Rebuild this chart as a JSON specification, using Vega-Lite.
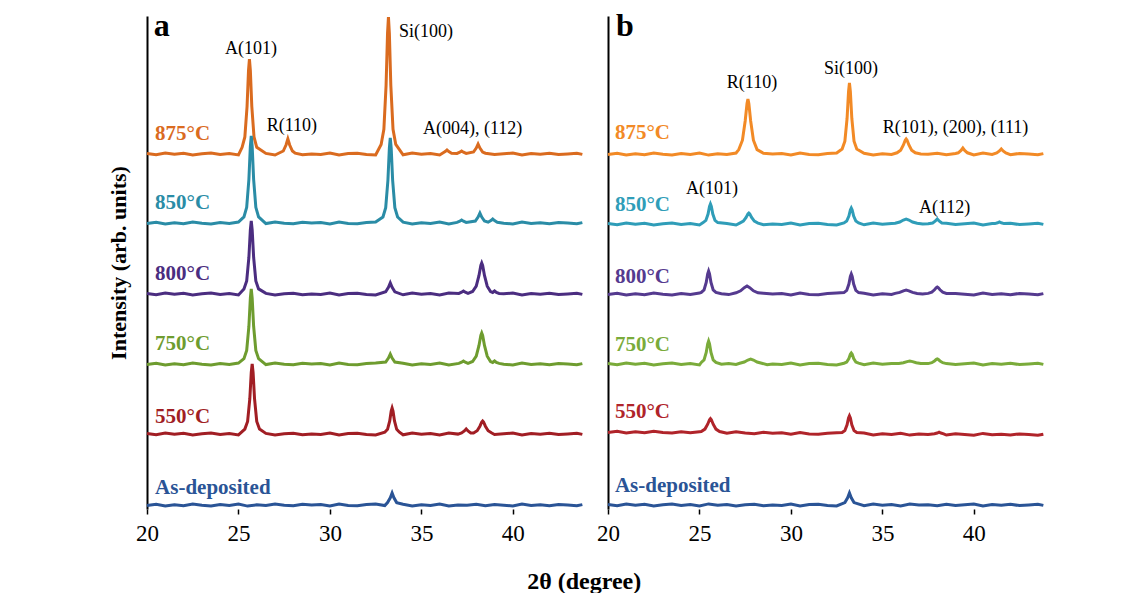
{
"$schema":"https://vega.github.io/schema/vega-lite/v6.json",
"padding":{"left":107,"top":10,"right":5,"bottom":5},
"config":{"font":"Liberation Serif","view":{"stroke":null},"style":{"guide-label":{"font":"Liberation Serif"},"guide-title":{"font":"Liberation Serif"}},"axis":{"grid":false,"domainColor":"#000","tickColor":"#000","labelColor":"#000","titleColor":"#000","labelFont":"Liberation Serif","titleFont":"Liberation Serif"},"axisX":{"labelFont":"Liberation Serif"},"text":{"font":"Liberation Serif"}},
"title":{"text":"2θ (degree)","orient":"bottom","anchor":"middle","fontSize":24,"fontWeight":"bold","font":"Liberation Serif","offset":25,"dx":6,"color":"#000"},
"datasets":{
"a":[
{"c":"a875","x":20,"y":355.5},{"c":"a875","x":20.5,"y":354.2},{"c":"a875","x":21,"y":356},{"c":"a875","x":21.5,"y":354.7},{"c":"a875","x":22,"y":355.7},{"c":"a875","x":22.5,"y":354},{"c":"a875","x":23,"y":355.2},{"c":"a875","x":23.5,"y":355.9},{"c":"a875","x":24,"y":354.4},{"c":"a875","x":24.5,"y":355.4},{"c":"a875","x":25,"y":354.1},{"c":"a875","x":25.2,"y":361.7},{"c":"a875","x":25.35,"y":372.1},{"c":"a875","x":25.47,"y":402.5},{"c":"a875","x":25.55,"y":438.6},{"c":"a875","x":25.6,"y":450},{"c":"a875","x":25.65,"y":438.6},{"c":"a875","x":25.73,"y":402.5},{"c":"a875","x":25.85,"y":372.1},{"c":"a875","x":26,"y":361.7},{"c":"a875","x":26.5,"y":355.6},{"c":"a875","x":27,"y":354},{"c":"a875","x":27.45,"y":358},{"c":"a875","x":27.6,"y":364},{"c":"a875","x":27.7,"y":370},{"c":"a875","x":27.8,"y":364},{"c":"a875","x":27.95,"y":358},{"c":"a875","x":28.1,"y":355.8},{"c":"a875","x":28.5,"y":354.3},{"c":"a875","x":29,"y":355.1},{"c":"a875","x":29.5,"y":354.5},{"c":"a875","x":30,"y":356},{"c":"a875","x":30.5,"y":354.1},{"c":"a875","x":31,"y":355.4},{"c":"a875","x":31.5,"y":355.7},{"c":"a875","x":32,"y":354.6},{"c":"a875","x":32.5,"y":354},{"c":"a875","x":32.8,"y":364.6},{"c":"a875","x":32.95,"y":379.7},{"c":"a875","x":33.07,"y":423.5},{"c":"a875","x":33.15,"y":475.6},{"c":"a875","x":33.2,"y":492},{"c":"a875","x":33.25,"y":475.6},{"c":"a875","x":33.33,"y":423.5},{"c":"a875","x":33.45,"y":379.7},{"c":"a875","x":33.6,"y":364.6},{"c":"a875","x":34,"y":354.2},{"c":"a875","x":34.5,"y":355.9},{"c":"a875","x":35,"y":354.7},{"c":"a875","x":35.5,"y":355.5},{"c":"a875","x":36,"y":354.1},{"c":"a875","x":36.15,"y":355.8},{"c":"a875","x":36.3,"y":357.4},{"c":"a875","x":36.4,"y":359},{"c":"a875","x":36.5,"y":357.4},{"c":"a875","x":36.65,"y":355.8},{"c":"a875","x":36.95,"y":355.6},{"c":"a875","x":37.1,"y":356.8},{"c":"a875","x":37.2,"y":358},{"c":"a875","x":37.3,"y":356.8},{"c":"a875","x":37.45,"y":355.6},{"c":"a875","x":37.85,"y":357},{"c":"a875","x":38,"y":361},{"c":"a875","x":38.1,"y":365},{"c":"a875","x":38.2,"y":361},{"c":"a875","x":38.35,"y":357},{"c":"a875","x":38.5,"y":355.8},{"c":"a875","x":39,"y":354.5},{"c":"a875","x":39.5,"y":355.2},{"c":"a875","x":40,"y":355.9},{"c":"a875","x":40.5,"y":354},{"c":"a875","x":41,"y":355.4},{"c":"a875","x":41.5,"y":354.8},{"c":"a875","x":42,"y":355.7},{"c":"a875","x":42.5,"y":354.4},{"c":"a875","x":43,"y":355.1},{"c":"a875","x":43.5,"y":355.8},{"c":"a875","x":43.8,"y":354.6},
{"c":"a850","x":20,"y":285.5},{"c":"a850","x":20.5,"y":286.8},{"c":"a850","x":21,"y":285},{"c":"a850","x":21.5,"y":286.3},{"c":"a850","x":22,"y":285.3},{"c":"a850","x":22.5,"y":287},{"c":"a850","x":23,"y":285.8},{"c":"a850","x":23.5,"y":285.1},{"c":"a850","x":24,"y":286.6},{"c":"a850","x":24.5,"y":285.6},{"c":"a850","x":25,"y":286.9},{"c":"a850","x":25.3,"y":292.1},{"c":"a850","x":25.45,"y":301.7},{"c":"a850","x":25.57,"y":329.5},{"c":"a850","x":25.65,"y":362.6},{"c":"a850","x":25.7,"y":373},{"c":"a850","x":25.75,"y":362.6},{"c":"a850","x":25.83,"y":329.5},{"c":"a850","x":25.95,"y":301.7},{"c":"a850","x":26.1,"y":292.1},{"c":"a850","x":26.5,"y":285.4},{"c":"a850","x":27,"y":287},{"c":"a850","x":27.5,"y":285.7},{"c":"a850","x":28,"y":285.2},{"c":"a850","x":28.5,"y":286.7},{"c":"a850","x":29,"y":285.9},{"c":"a850","x":29.5,"y":286.5},{"c":"a850","x":30,"y":285},{"c":"a850","x":30.5,"y":286.9},{"c":"a850","x":31,"y":285.6},{"c":"a850","x":31.5,"y":285.3},{"c":"a850","x":32,"y":286.4},{"c":"a850","x":32.5,"y":287},{"c":"a850","x":32.9,"y":292},{"c":"a850","x":33.05,"y":301.3},{"c":"a850","x":33.17,"y":328.5},{"c":"a850","x":33.25,"y":360.8},{"c":"a850","x":33.3,"y":371},{"c":"a850","x":33.35,"y":360.8},{"c":"a850","x":33.43,"y":328.5},{"c":"a850","x":33.55,"y":301.3},{"c":"a850","x":33.7,"y":292},{"c":"a850","x":34,"y":286.8},{"c":"a850","x":34.5,"y":285.1},{"c":"a850","x":35,"y":286.3},{"c":"a850","x":35.5,"y":285.5},{"c":"a850","x":36,"y":286.9},{"c":"a850","x":36.5,"y":285},{"c":"a850","x":36.95,"y":286.6},{"c":"a850","x":37.1,"y":287.8},{"c":"a850","x":37.2,"y":289},{"c":"a850","x":37.3,"y":287.8},{"c":"a850","x":37.45,"y":286.6},{"c":"a850","x":37.95,"y":288},{"c":"a850","x":38.1,"y":292},{"c":"a850","x":38.2,"y":296},{"c":"a850","x":38.3,"y":292},{"c":"a850","x":38.45,"y":288},{"c":"a850","x":38.65,"y":286.8},{"c":"a850","x":38.8,"y":288.4},{"c":"a850","x":38.9,"y":290},{"c":"a850","x":39,"y":288.4},{"c":"a850","x":39.15,"y":286.8},{"c":"a850","x":39.5,"y":285.8},{"c":"a850","x":40,"y":285.1},{"c":"a850","x":40.5,"y":287},{"c":"a850","x":41,"y":285.6},{"c":"a850","x":41.5,"y":286.2},{"c":"a850","x":42,"y":285.3},{"c":"a850","x":42.5,"y":286.6},{"c":"a850","x":43,"y":285.9},{"c":"a850","x":43.5,"y":285.2},{"c":"a850","x":43.8,"y":286.4},
{"c":"a800","x":20,"y":215.5},{"c":"a800","x":20.5,"y":214.2},{"c":"a800","x":21,"y":216},{"c":"a800","x":21.5,"y":214.7},{"c":"a800","x":22,"y":215.7},{"c":"a800","x":22.5,"y":214},{"c":"a800","x":23,"y":215.2},{"c":"a800","x":23.5,"y":215.9},{"c":"a800","x":24,"y":214.4},{"c":"a800","x":24.5,"y":215.4},{"c":"a800","x":25,"y":214.1},{"c":"a800","x":25.3,"y":220.1},{"c":"a800","x":25.45,"y":228.1},{"c":"a800","x":25.57,"y":251.5},{"c":"a800","x":25.65,"y":279.2},{"c":"a800","x":25.7,"y":288},{"c":"a800","x":25.75,"y":279.2},{"c":"a800","x":25.83,"y":251.5},{"c":"a800","x":25.95,"y":228.1},{"c":"a800","x":26.1,"y":220.1},{"c":"a800","x":26.5,"y":215.6},{"c":"a800","x":27,"y":214},{"c":"a800","x":27.5,"y":215.3},{"c":"a800","x":28,"y":215.8},{"c":"a800","x":28.5,"y":214.3},{"c":"a800","x":29,"y":215.1},{"c":"a800","x":29.5,"y":214.5},{"c":"a800","x":30,"y":216},{"c":"a800","x":30.5,"y":214.1},{"c":"a800","x":31,"y":215.4},{"c":"a800","x":31.5,"y":215.7},{"c":"a800","x":32,"y":214.6},{"c":"a800","x":32.5,"y":214},{"c":"a800","x":33.05,"y":217.2},{"c":"a800","x":33.2,"y":221.6},{"c":"a800","x":33.3,"y":226},{"c":"a800","x":33.4,"y":221.6},{"c":"a800","x":33.55,"y":217.2},{"c":"a800","x":34,"y":214.2},{"c":"a800","x":34.5,"y":215.9},{"c":"a800","x":35,"y":214.7},{"c":"a800","x":35.5,"y":215.5},{"c":"a800","x":36,"y":214.1},{"c":"a800","x":36.5,"y":216},{"c":"a800","x":37.05,"y":215.6},{"c":"a800","x":37.2,"y":216.8},{"c":"a800","x":37.3,"y":218},{"c":"a800","x":37.4,"y":216.8},{"c":"a800","x":37.55,"y":215.6},{"c":"a800","x":37.8,"y":217.5},{"c":"a800","x":38,"y":222.8},{"c":"a800","x":38.15,"y":233.6},{"c":"a800","x":38.25,"y":243.5},{"c":"a800","x":38.3,"y":246},{"c":"a800","x":38.35,"y":243.5},{"c":"a800","x":38.45,"y":233.6},{"c":"a800","x":38.6,"y":222.8},{"c":"a800","x":38.78,"y":217.5},{"c":"a800","x":38.9,"y":216.5},{"c":"a800","x":39,"y":218},{"c":"a800","x":39.1,"y":216.5},{"c":"a800","x":39.25,"y":215.6},{"c":"a800","x":39.5,"y":215.2},{"c":"a800","x":40,"y":215.9},{"c":"a800","x":40.5,"y":214},{"c":"a800","x":41,"y":215.4},{"c":"a800","x":41.5,"y":214.8},{"c":"a800","x":42,"y":215.7},{"c":"a800","x":42.5,"y":214.4},{"c":"a800","x":43,"y":215.1},{"c":"a800","x":43.5,"y":215.8},{"c":"a800","x":43.8,"y":214.6},
{"c":"a750","x":20,"y":144.5},{"c":"a750","x":20.5,"y":145.8},{"c":"a750","x":21,"y":144},{"c":"a750","x":21.5,"y":145.3},{"c":"a750","x":22,"y":144.3},{"c":"a750","x":22.5,"y":146},{"c":"a750","x":23,"y":144.8},{"c":"a750","x":23.5,"y":144.1},{"c":"a750","x":24,"y":145.6},{"c":"a750","x":24.5,"y":144.6},{"c":"a750","x":25,"y":145.9},{"c":"a750","x":25.3,"y":150.3},{"c":"a750","x":25.45,"y":158.5},{"c":"a750","x":25.57,"y":182.5},{"c":"a750","x":25.65,"y":211},{"c":"a750","x":25.7,"y":220},{"c":"a750","x":25.75,"y":211},{"c":"a750","x":25.83,"y":182.5},{"c":"a750","x":25.95,"y":158.5},{"c":"a750","x":26.1,"y":150.3},{"c":"a750","x":26.5,"y":144.4},{"c":"a750","x":27,"y":146},{"c":"a750","x":27.5,"y":144.7},{"c":"a750","x":28,"y":144.2},{"c":"a750","x":28.5,"y":145.7},{"c":"a750","x":29,"y":144.9},{"c":"a750","x":29.5,"y":145.5},{"c":"a750","x":30,"y":144},{"c":"a750","x":30.5,"y":145.9},{"c":"a750","x":31,"y":144.6},{"c":"a750","x":31.5,"y":144.3},{"c":"a750","x":32,"y":145.4},{"c":"a750","x":32.5,"y":146},{"c":"a750","x":33.05,"y":147},{"c":"a750","x":33.2,"y":151},{"c":"a750","x":33.3,"y":155},{"c":"a750","x":33.4,"y":151},{"c":"a750","x":33.55,"y":147},{"c":"a750","x":34,"y":145.8},{"c":"a750","x":34.5,"y":144.1},{"c":"a750","x":35,"y":145.3},{"c":"a750","x":35.5,"y":144.5},{"c":"a750","x":36,"y":145.9},{"c":"a750","x":36.5,"y":144},{"c":"a750","x":37.05,"y":145.6},{"c":"a750","x":37.2,"y":146.8},{"c":"a750","x":37.3,"y":148},{"c":"a750","x":37.4,"y":146.8},{"c":"a750","x":37.55,"y":145.6},{"c":"a750","x":37.8,"y":147.5},{"c":"a750","x":38,"y":152.8},{"c":"a750","x":38.15,"y":163.6},{"c":"a750","x":38.25,"y":173.5},{"c":"a750","x":38.3,"y":176},{"c":"a750","x":38.35,"y":173.5},{"c":"a750","x":38.45,"y":163.6},{"c":"a750","x":38.6,"y":152.8},{"c":"a750","x":38.78,"y":147.5},{"c":"a750","x":38.9,"y":146.5},{"c":"a750","x":39,"y":148},{"c":"a750","x":39.1,"y":146.5},{"c":"a750","x":39.25,"y":145.6},{"c":"a750","x":39.5,"y":144.8},{"c":"a750","x":40,"y":144.1},{"c":"a750","x":40.5,"y":146},{"c":"a750","x":41,"y":144.6},{"c":"a750","x":41.5,"y":145.2},{"c":"a750","x":42,"y":144.3},{"c":"a750","x":42.5,"y":145.6},{"c":"a750","x":43,"y":144.9},{"c":"a750","x":43.5,"y":144.2},{"c":"a750","x":43.8,"y":145.4},
{"c":"a550","x":20,"y":75.5},{"c":"a550","x":20.5,"y":74.2},{"c":"a550","x":21,"y":76},{"c":"a550","x":21.5,"y":74.7},{"c":"a550","x":22,"y":75.7},{"c":"a550","x":22.5,"y":74},{"c":"a550","x":23,"y":75.2},{"c":"a550","x":23.5,"y":75.9},{"c":"a550","x":24,"y":74.4},{"c":"a550","x":24.5,"y":75.4},{"c":"a550","x":25,"y":74.1},{"c":"a550","x":25.35,"y":79.9},{"c":"a550","x":25.5,"y":87.6},{"c":"a550","x":25.62,"y":110},{"c":"a550","x":25.7,"y":136.6},{"c":"a550","x":25.75,"y":145},{"c":"a550","x":25.8,"y":136.6},{"c":"a550","x":25.88,"y":110},{"c":"a550","x":26,"y":87.6},{"c":"a550","x":26.15,"y":79.9},{"c":"a550","x":26.5,"y":75.6},{"c":"a550","x":27,"y":74},{"c":"a550","x":27.5,"y":75.3},{"c":"a550","x":28,"y":75.8},{"c":"a550","x":28.5,"y":74.3},{"c":"a550","x":29,"y":75.1},{"c":"a550","x":29.5,"y":74.5},{"c":"a550","x":30,"y":76},{"c":"a550","x":30.5,"y":74.1},{"c":"a550","x":31,"y":75.4},{"c":"a550","x":31.5,"y":75.7},{"c":"a550","x":32,"y":74.6},{"c":"a550","x":32.5,"y":74},{"c":"a550","x":33,"y":76.8},{"c":"a550","x":33.15,"y":79.7},{"c":"a550","x":33.27,"y":88},{"c":"a550","x":33.35,"y":97.9},{"c":"a550","x":33.4,"y":101},{"c":"a550","x":33.45,"y":97.9},{"c":"a550","x":33.53,"y":88},{"c":"a550","x":33.65,"y":79.7},{"c":"a550","x":33.8,"y":76.8},{"c":"a550","x":34,"y":74.2},{"c":"a550","x":34.5,"y":75.9},{"c":"a550","x":35,"y":74.7},{"c":"a550","x":35.5,"y":75.5},{"c":"a550","x":36,"y":74.1},{"c":"a550","x":36.5,"y":76},{"c":"a550","x":37,"y":74.9},{"c":"a550","x":37.2,"y":76},{"c":"a550","x":37.35,"y":78},{"c":"a550","x":37.45,"y":80},{"c":"a550","x":37.55,"y":78},{"c":"a550","x":37.7,"y":76},{"c":"a550","x":37.85,"y":76},{"c":"a550","x":38.05,"y":78.3},{"c":"a550","x":38.2,"y":82.8},{"c":"a550","x":38.3,"y":87},{"c":"a550","x":38.35,"y":88},{"c":"a550","x":38.4,"y":87},{"c":"a550","x":38.5,"y":82.8},{"c":"a550","x":38.65,"y":78.3},{"c":"a550","x":38.85,"y":76},{"c":"a550","x":39,"y":74.5},{"c":"a550","x":39.5,"y":75.2},{"c":"a550","x":40,"y":75.9},{"c":"a550","x":40.5,"y":74},{"c":"a550","x":41,"y":75.4},{"c":"a550","x":41.5,"y":74.8},{"c":"a550","x":42,"y":75.7},{"c":"a550","x":42.5,"y":74.4},{"c":"a550","x":43,"y":75.1},{"c":"a550","x":43.5,"y":75.8},{"c":"a550","x":43.8,"y":74.6},
{"c":"a0","x":20,"y":3.5},{"c":"a0","x":20.5,"y":4.8},{"c":"a0","x":21,"y":3},{"c":"a0","x":21.5,"y":4.3},{"c":"a0","x":22,"y":3.3},{"c":"a0","x":22.5,"y":5},{"c":"a0","x":23,"y":3.8},{"c":"a0","x":23.5,"y":3.1},{"c":"a0","x":24,"y":4.6},{"c":"a0","x":24.5,"y":3.6},{"c":"a0","x":25,"y":4.9},{"c":"a0","x":25.5,"y":2.9},{"c":"a0","x":26,"y":4.2},{"c":"a0","x":26.5,"y":3.4},{"c":"a0","x":27,"y":5},{"c":"a0","x":27.5,"y":3.7},{"c":"a0","x":28,"y":3.2},{"c":"a0","x":28.5,"y":4.7},{"c":"a0","x":29,"y":3.9},{"c":"a0","x":29.5,"y":4.5},{"c":"a0","x":30,"y":3},{"c":"a0","x":30.5,"y":4.9},{"c":"a0","x":31,"y":3.6},{"c":"a0","x":31.5,"y":3.3},{"c":"a0","x":32,"y":4.4},{"c":"a0","x":32.5,"y":5},{"c":"a0","x":33,"y":3.4},{"c":"a0","x":33.15,"y":6.4},{"c":"a0","x":33.3,"y":11.2},{"c":"a0","x":33.4,"y":16},{"c":"a0","x":33.5,"y":11.2},{"c":"a0","x":33.65,"y":6.4},{"c":"a0","x":34,"y":4.8},{"c":"a0","x":34.5,"y":3.1},{"c":"a0","x":35,"y":4.3},{"c":"a0","x":35.5,"y":3.5},{"c":"a0","x":36,"y":4.9},{"c":"a0","x":36.5,"y":3},{"c":"a0","x":37,"y":4.1},{"c":"a0","x":37.5,"y":3.7},{"c":"a0","x":38,"y":4.7},{"c":"a0","x":38.5,"y":3.2},{"c":"a0","x":39,"y":4.5},{"c":"a0","x":39.5,"y":3.8},{"c":"a0","x":40,"y":3.1},{"c":"a0","x":40.5,"y":5},{"c":"a0","x":41,"y":3.6},{"c":"a0","x":41.5,"y":4.2},{"c":"a0","x":42,"y":3.3},{"c":"a0","x":42.5,"y":4.6},{"c":"a0","x":43,"y":3.9},{"c":"a0","x":43.5,"y":3.2},{"c":"a0","x":43.8,"y":4.4}
],
"b":[
{"c":"b875","x":20,"y":354.5},{"c":"b875","x":20.5,"y":355.8},{"c":"b875","x":21,"y":354},{"c":"b875","x":21.5,"y":355.3},{"c":"b875","x":22,"y":354.3},{"c":"b875","x":22.5,"y":356},{"c":"b875","x":23,"y":354.8},{"c":"b875","x":23.5,"y":354.1},{"c":"b875","x":24,"y":355.6},{"c":"b875","x":24.5,"y":354.6},{"c":"b875","x":25,"y":355.9},{"c":"b875","x":25.5,"y":353.9},{"c":"b875","x":26,"y":355.2},{"c":"b875","x":26.5,"y":354.4},{"c":"b875","x":27,"y":356},{"c":"b875","x":27.15,"y":359.4},{"c":"b875","x":27.35,"y":368.8},{"c":"b875","x":27.5,"y":388},{"c":"b875","x":27.6,"y":405.6},{"c":"b875","x":27.65,"y":410},{"c":"b875","x":27.7,"y":405.6},{"c":"b875","x":27.8,"y":388},{"c":"b875","x":27.95,"y":368.8},{"c":"b875","x":28.15,"y":359.4},{"c":"b875","x":28.5,"y":355.7},{"c":"b875","x":29,"y":354.9},{"c":"b875","x":29.5,"y":355.5},{"c":"b875","x":30,"y":354},{"c":"b875","x":30.5,"y":355.9},{"c":"b875","x":31,"y":354.6},{"c":"b875","x":31.5,"y":354.3},{"c":"b875","x":32,"y":355.4},{"c":"b875","x":32.5,"y":356},{"c":"b875","x":32.8,"y":360},{"c":"b875","x":32.95,"y":367.8},{"c":"b875","x":33.07,"y":390.5},{"c":"b875","x":33.15,"y":417.5},{"c":"b875","x":33.2,"y":426},{"c":"b875","x":33.25,"y":417.5},{"c":"b875","x":33.33,"y":390.5},{"c":"b875","x":33.45,"y":367.8},{"c":"b875","x":33.6,"y":360},{"c":"b875","x":34,"y":355.8},{"c":"b875","x":34.5,"y":354.1},{"c":"b875","x":35,"y":355.3},{"c":"b875","x":35.5,"y":354.5},{"c":"b875","x":35.8,"y":356.2},{"c":"b875","x":36,"y":358.8},{"c":"b875","x":36.15,"y":364},{"c":"b875","x":36.25,"y":368.8},{"c":"b875","x":36.3,"y":370},{"c":"b875","x":36.35,"y":368.8},{"c":"b875","x":36.45,"y":364},{"c":"b875","x":36.6,"y":358.8},{"c":"b875","x":36.8,"y":356.2},{"c":"b875","x":37.1,"y":355.1},{"c":"b875","x":37.5,"y":354.7},{"c":"b875","x":38,"y":355.7},{"c":"b875","x":38.5,"y":354.2},{"c":"b875","x":39,"y":355.5},{"c":"b875","x":39.15,"y":356.2},{"c":"b875","x":39.3,"y":358.6},{"c":"b875","x":39.4,"y":361},{"c":"b875","x":39.5,"y":358.6},{"c":"b875","x":39.65,"y":356.2},{"c":"b875","x":40,"y":354.1},{"c":"b875","x":40.5,"y":356},{"c":"b875","x":41,"y":354.6},{"c":"b875","x":41.25,"y":356},{"c":"b875","x":41.4,"y":358},{"c":"b875","x":41.5,"y":360},{"c":"b875","x":41.6,"y":358},{"c":"b875","x":41.75,"y":356},{"c":"b875","x":42,"y":354.3},{"c":"b875","x":42.5,"y":355.6},{"c":"b875","x":43,"y":354.9},{"c":"b875","x":43.5,"y":354.2},{"c":"b875","x":43.8,"y":355.4},
{"c":"b850","x":20,"y":285.5},{"c":"b850","x":20.5,"y":284.2},{"c":"b850","x":21,"y":286},{"c":"b850","x":21.5,"y":284.7},{"c":"b850","x":22,"y":285.7},{"c":"b850","x":22.5,"y":284},{"c":"b850","x":23,"y":285.2},{"c":"b850","x":23.5,"y":285.9},{"c":"b850","x":24,"y":284.4},{"c":"b850","x":24.5,"y":285.4},{"c":"b850","x":25,"y":284.1},{"c":"b850","x":25.2,"y":286.4},{"c":"b850","x":25.35,"y":288.6},{"c":"b850","x":25.47,"y":295},{"c":"b850","x":25.55,"y":302.6},{"c":"b850","x":25.6,"y":305},{"c":"b850","x":25.65,"y":302.6},{"c":"b850","x":25.73,"y":295},{"c":"b850","x":25.85,"y":288.6},{"c":"b850","x":26,"y":286.4},{"c":"b850","x":26.5,"y":285.6},{"c":"b850","x":27,"y":284},{"c":"b850","x":27.2,"y":285.9},{"c":"b850","x":27.4,"y":287.8},{"c":"b850","x":27.55,"y":291.6},{"c":"b850","x":27.65,"y":295.1},{"c":"b850","x":27.7,"y":296},{"c":"b850","x":27.75,"y":295.1},{"c":"b850","x":27.85,"y":291.6},{"c":"b850","x":28,"y":287.8},{"c":"b850","x":28.2,"y":285.9},{"c":"b850","x":28.5,"y":284.3},{"c":"b850","x":29,"y":285.1},{"c":"b850","x":29.5,"y":284.5},{"c":"b850","x":30,"y":286},{"c":"b850","x":30.5,"y":284.1},{"c":"b850","x":31,"y":285.4},{"c":"b850","x":31.5,"y":285.7},{"c":"b850","x":32,"y":284.6},{"c":"b850","x":32.5,"y":284},{"c":"b850","x":32.9,"y":286.1},{"c":"b850","x":33.05,"y":287.9},{"c":"b850","x":33.17,"y":293},{"c":"b850","x":33.25,"y":299.1},{"c":"b850","x":33.3,"y":301},{"c":"b850","x":33.35,"y":299.1},{"c":"b850","x":33.43,"y":293},{"c":"b850","x":33.55,"y":287.9},{"c":"b850","x":33.7,"y":286.1},{"c":"b850","x":34,"y":284.2},{"c":"b850","x":34.5,"y":285.9},{"c":"b850","x":35,"y":284.7},{"c":"b850","x":35.5,"y":285.5},{"c":"b850","x":35.7,"y":285.8},{"c":"b850","x":35.95,"y":287},{"c":"b850","x":36.15,"y":289},{"c":"b850","x":36.3,"y":290},{"c":"b850","x":36.45,"y":289},{"c":"b850","x":36.65,"y":287},{"c":"b850","x":36.9,"y":285.8},{"c":"b850","x":37.2,"y":284.9},{"c":"b850","x":37.5,"y":285.3},{"c":"b850","x":37.75,"y":286},{"c":"b850","x":37.9,"y":288},{"c":"b850","x":38,"y":290},{"c":"b850","x":38.1,"y":288},{"c":"b850","x":38.25,"y":286},{"c":"b850","x":38.5,"y":285.8},{"c":"b850","x":39,"y":284.5},{"c":"b850","x":39.5,"y":285.2},{"c":"b850","x":40,"y":285.9},{"c":"b850","x":40.5,"y":284},{"c":"b850","x":41,"y":285.4},{"c":"b850","x":41.15,"y":285.4},{"c":"b850","x":41.3,"y":286.2},{"c":"b850","x":41.4,"y":287},{"c":"b850","x":41.5,"y":286.2},{"c":"b850","x":41.65,"y":285.4},{"c":"b850","x":42,"y":285.7},{"c":"b850","x":42.5,"y":284.4},{"c":"b850","x":43,"y":285.1},{"c":"b850","x":43.5,"y":285.8},{"c":"b850","x":43.8,"y":284.6},
{"c":"b800","x":20,"y":214.5},{"c":"b800","x":20.5,"y":215.8},{"c":"b800","x":21,"y":214},{"c":"b800","x":21.5,"y":215.3},{"c":"b800","x":22,"y":214.3},{"c":"b800","x":22.5,"y":216},{"c":"b800","x":23,"y":214.8},{"c":"b800","x":23.5,"y":214.1},{"c":"b800","x":24,"y":215.6},{"c":"b800","x":24.5,"y":214.6},{"c":"b800","x":25,"y":215.9},{"c":"b800","x":25.1,"y":216.6},{"c":"b800","x":25.25,"y":219.1},{"c":"b800","x":25.37,"y":226.5},{"c":"b800","x":25.45,"y":235.2},{"c":"b800","x":25.5,"y":238},{"c":"b800","x":25.55,"y":235.2},{"c":"b800","x":25.63,"y":226.5},{"c":"b800","x":25.75,"y":219.1},{"c":"b800","x":25.9,"y":216.6},{"c":"b800","x":26.2,"y":215.2},{"c":"b800","x":26.6,"y":214.4},{"c":"b800","x":27,"y":216.2},{"c":"b800","x":27.25,"y":218.2},{"c":"b800","x":27.45,"y":221.4},{"c":"b800","x":27.6,"y":223},{"c":"b800","x":27.75,"y":221.4},{"c":"b800","x":27.95,"y":218.2},{"c":"b800","x":28.2,"y":216.2},{"c":"b800","x":28.5,"y":215.7},{"c":"b800","x":29,"y":214.9},{"c":"b800","x":29.5,"y":215.5},{"c":"b800","x":30,"y":214},{"c":"b800","x":30.5,"y":215.9},{"c":"b800","x":31,"y":214.6},{"c":"b800","x":31.5,"y":214.3},{"c":"b800","x":32,"y":215.4},{"c":"b800","x":32.5,"y":216},{"c":"b800","x":32.9,"y":216.4},{"c":"b800","x":33.05,"y":218.6},{"c":"b800","x":33.17,"y":225},{"c":"b800","x":33.25,"y":232.6},{"c":"b800","x":33.3,"y":235},{"c":"b800","x":33.35,"y":232.6},{"c":"b800","x":33.43,"y":225},{"c":"b800","x":33.55,"y":218.6},{"c":"b800","x":33.7,"y":216.4},{"c":"b800","x":34,"y":215.8},{"c":"b800","x":34.5,"y":214.1},{"c":"b800","x":35,"y":215.3},{"c":"b800","x":35.5,"y":214.5},{"c":"b800","x":35.7,"y":215.6},{"c":"b800","x":35.95,"y":216.6},{"c":"b800","x":36.15,"y":218.2},{"c":"b800","x":36.3,"y":219},{"c":"b800","x":36.45,"y":218.2},{"c":"b800","x":36.65,"y":216.6},{"c":"b800","x":36.9,"y":215.6},{"c":"b800","x":37.2,"y":214.9},{"c":"b800","x":37.5,"y":215.6},{"c":"b800","x":37.7,"y":216.8},{"c":"b800","x":37.85,"y":219.2},{"c":"b800","x":37.95,"y":221.4},{"c":"b800","x":38,"y":222},{"c":"b800","x":38.05,"y":221.4},{"c":"b800","x":38.15,"y":219.2},{"c":"b800","x":38.3,"y":216.8},{"c":"b800","x":38.5,"y":215.6},{"c":"b800","x":39,"y":215.5},{"c":"b800","x":39.5,"y":214.8},{"c":"b800","x":40,"y":214.1},{"c":"b800","x":40.5,"y":216},{"c":"b800","x":41,"y":214.6},{"c":"b800","x":41.5,"y":215.2},{"c":"b800","x":42,"y":214.3},{"c":"b800","x":42.5,"y":215.6},{"c":"b800","x":43,"y":214.9},{"c":"b800","x":43.5,"y":214.2},{"c":"b800","x":43.8,"y":215.4},
{"c":"b750","x":20,"y":145.5},{"c":"b750","x":20.5,"y":144.2},{"c":"b750","x":21,"y":146},{"c":"b750","x":21.5,"y":144.7},{"c":"b750","x":22,"y":145.7},{"c":"b750","x":22.5,"y":144},{"c":"b750","x":23,"y":145.2},{"c":"b750","x":23.5,"y":145.9},{"c":"b750","x":24,"y":144.4},{"c":"b750","x":24.5,"y":145.4},{"c":"b750","x":25,"y":144.1},{"c":"b750","x":25.1,"y":146.6},{"c":"b750","x":25.25,"y":149.1},{"c":"b750","x":25.37,"y":156.5},{"c":"b750","x":25.45,"y":165.2},{"c":"b750","x":25.5,"y":168},{"c":"b750","x":25.55,"y":165.2},{"c":"b750","x":25.63,"y":156.5},{"c":"b750","x":25.75,"y":149.1},{"c":"b750","x":25.9,"y":146.6},{"c":"b750","x":26.2,"y":144.8},{"c":"b750","x":26.6,"y":145.6},{"c":"b750","x":27,"y":144.6},{"c":"b750","x":27.2,"y":145.8},{"c":"b750","x":27.45,"y":147},{"c":"b750","x":27.65,"y":149},{"c":"b750","x":27.8,"y":150},{"c":"b750","x":27.95,"y":149},{"c":"b750","x":28.15,"y":147},{"c":"b750","x":28.4,"y":145.8},{"c":"b750","x":28.7,"y":144.3},{"c":"b750","x":29,"y":145.1},{"c":"b750","x":29.5,"y":144.5},{"c":"b750","x":30,"y":146},{"c":"b750","x":30.5,"y":144.1},{"c":"b750","x":31,"y":145.4},{"c":"b750","x":31.5,"y":145.7},{"c":"b750","x":32,"y":144.6},{"c":"b750","x":32.5,"y":144},{"c":"b750","x":32.9,"y":145.8},{"c":"b750","x":33.05,"y":147},{"c":"b750","x":33.17,"y":150.5},{"c":"b750","x":33.25,"y":154.7},{"c":"b750","x":33.3,"y":156},{"c":"b750","x":33.35,"y":154.7},{"c":"b750","x":33.43,"y":150.5},{"c":"b750","x":33.55,"y":147},{"c":"b750","x":33.7,"y":145.8},{"c":"b750","x":34,"y":144.2},{"c":"b750","x":34.5,"y":145.9},{"c":"b750","x":35,"y":144.7},{"c":"b750","x":35.5,"y":145.5},{"c":"b750","x":35.9,"y":145.5},{"c":"b750","x":36.15,"y":146.2},{"c":"b750","x":36.35,"y":147.4},{"c":"b750","x":36.5,"y":148},{"c":"b750","x":36.65,"y":147.4},{"c":"b750","x":36.85,"y":146.2},{"c":"b750","x":37.1,"y":145.5},{"c":"b750","x":37.5,"y":145.4},{"c":"b750","x":37.7,"y":146.3},{"c":"b750","x":37.85,"y":148},{"c":"b750","x":37.95,"y":149.6},{"c":"b750","x":38,"y":150},{"c":"b750","x":38.05,"y":149.6},{"c":"b750","x":38.15,"y":148},{"c":"b750","x":38.3,"y":146.3},{"c":"b750","x":38.5,"y":145.4},{"c":"b750","x":39,"y":144.5},{"c":"b750","x":39.5,"y":145.2},{"c":"b750","x":40,"y":145.9},{"c":"b750","x":40.5,"y":144},{"c":"b750","x":41,"y":145.4},{"c":"b750","x":41.5,"y":144.8},{"c":"b750","x":42,"y":145.7},{"c":"b750","x":42.5,"y":144.4},{"c":"b750","x":43,"y":145.1},{"c":"b750","x":43.5,"y":145.8},{"c":"b750","x":43.8,"y":144.6},
{"c":"b550","x":20,"y":76.5},{"c":"b550","x":20.5,"y":77.8},{"c":"b550","x":21,"y":76},{"c":"b550","x":21.5,"y":77.3},{"c":"b550","x":22,"y":76.3},{"c":"b550","x":22.5,"y":77.8},{"c":"b550","x":23,"y":76.6},{"c":"b550","x":23.5,"y":75.9},{"c":"b550","x":24,"y":77.2},{"c":"b550","x":24.5,"y":76.2},{"c":"b550","x":25,"y":77.3},{"c":"b550","x":25.1,"y":77.5},{"c":"b550","x":25.3,"y":79.9},{"c":"b550","x":25.45,"y":84.8},{"c":"b550","x":25.55,"y":89.3},{"c":"b550","x":25.6,"y":90.4},{"c":"b550","x":25.65,"y":89.3},{"c":"b550","x":25.75,"y":84.8},{"c":"b550","x":25.9,"y":79.9},{"c":"b550","x":26.1,"y":77.5},{"c":"b550","x":26.5,"y":75.7},{"c":"b550","x":27,"y":77.2},{"c":"b550","x":27.5,"y":75.9},{"c":"b550","x":28,"y":75.3},{"c":"b550","x":28.5,"y":76.7},{"c":"b550","x":29,"y":75.8},{"c":"b550","x":29.5,"y":76.3},{"c":"b550","x":30,"y":74.7},{"c":"b550","x":30.5,"y":76.5},{"c":"b550","x":31,"y":75.1},{"c":"b550","x":31.5,"y":74.8},{"c":"b550","x":32,"y":75.8},{"c":"b550","x":32.5,"y":76.3},{"c":"b550","x":32.8,"y":76.5},{"c":"b550","x":32.95,"y":78.4},{"c":"b550","x":33.07,"y":84.2},{"c":"b550","x":33.15,"y":91},{"c":"b550","x":33.2,"y":93.2},{"c":"b550","x":33.25,"y":91},{"c":"b550","x":33.33,"y":84.2},{"c":"b550","x":33.45,"y":78.4},{"c":"b550","x":33.6,"y":76.5},{"c":"b550","x":34,"y":75.9},{"c":"b550","x":34.5,"y":74.1},{"c":"b550","x":35,"y":75.3},{"c":"b550","x":35.5,"y":74.5},{"c":"b550","x":36,"y":75.8},{"c":"b550","x":36.5,"y":73.9},{"c":"b550","x":37,"y":75},{"c":"b550","x":37.5,"y":74.5},{"c":"b550","x":37.85,"y":75.2},{"c":"b550","x":38,"y":76},{"c":"b550","x":38.1,"y":76.8},{"c":"b550","x":38.2,"y":76},{"c":"b550","x":38.35,"y":75.2},{"c":"b550","x":38.5,"y":74},{"c":"b550","x":39,"y":75.2},{"c":"b550","x":39.5,"y":74.5},{"c":"b550","x":40,"y":73.8},{"c":"b550","x":40.5,"y":75.6},{"c":"b550","x":41,"y":74.2},{"c":"b550","x":41.5,"y":74.8},{"c":"b550","x":42,"y":73.9},{"c":"b550","x":42.5,"y":75.1},{"c":"b550","x":43,"y":74.4},{"c":"b550","x":43.5,"y":73.7},{"c":"b550","x":43.8,"y":74.8},
{"c":"b0","x":20,"y":4.5},{"c":"b0","x":20.5,"y":3.2},{"c":"b0","x":21,"y":5},{"c":"b0","x":21.5,"y":3.7},{"c":"b0","x":22,"y":4.7},{"c":"b0","x":22.5,"y":3},{"c":"b0","x":23,"y":4.2},{"c":"b0","x":23.5,"y":4.9},{"c":"b0","x":24,"y":3.4},{"c":"b0","x":24.5,"y":4.4},{"c":"b0","x":25,"y":3.1},{"c":"b0","x":25.5,"y":5.1},{"c":"b0","x":26,"y":3.8},{"c":"b0","x":26.5,"y":4.6},{"c":"b0","x":27,"y":3},{"c":"b0","x":27.5,"y":4.3},{"c":"b0","x":28,"y":4.8},{"c":"b0","x":28.5,"y":3.3},{"c":"b0","x":29,"y":4.1},{"c":"b0","x":29.5,"y":3.5},{"c":"b0","x":30,"y":5},{"c":"b0","x":30.5,"y":3.1},{"c":"b0","x":31,"y":4.4},{"c":"b0","x":31.5,"y":4.7},{"c":"b0","x":32,"y":3.6},{"c":"b0","x":32.5,"y":3},{"c":"b0","x":32.95,"y":6.4},{"c":"b0","x":33.1,"y":11.2},{"c":"b0","x":33.2,"y":16},{"c":"b0","x":33.3,"y":11.2},{"c":"b0","x":33.45,"y":6.4},{"c":"b0","x":34,"y":3.2},{"c":"b0","x":34.5,"y":4.9},{"c":"b0","x":35,"y":3.7},{"c":"b0","x":35.5,"y":4.5},{"c":"b0","x":36,"y":3.1},{"c":"b0","x":36.5,"y":5},{"c":"b0","x":37,"y":3.9},{"c":"b0","x":37.5,"y":4.3},{"c":"b0","x":38,"y":3.3},{"c":"b0","x":38.5,"y":4.8},{"c":"b0","x":39,"y":3.5},{"c":"b0","x":39.5,"y":4.2},{"c":"b0","x":40,"y":4.9},{"c":"b0","x":40.5,"y":3},{"c":"b0","x":41,"y":4.4},{"c":"b0","x":41.5,"y":3.8},{"c":"b0","x":42,"y":4.7},{"c":"b0","x":42.5,"y":3.4},{"c":"b0","x":43,"y":4.1},{"c":"b0","x":43.5,"y":4.8},{"c":"b0","x":43.8,"y":3.6}
],
"samples":[
{"p":"a","c":"a875","t":"875°C","x":20.44,"y":369},{"p":"a","c":"a850","t":"850°C","x":20.44,"y":300},{"p":"a","c":"a800","t":"800°C","x":20.44,"y":229},{"p":"a","c":"a750","t":"750°C","x":20.44,"y":159},{"p":"a","c":"a550","t":"550°C","x":20.44,"y":86},{"p":"a","c":"a0","t":"As-deposited","x":20.44,"y":15},
{"p":"b","c":"b875","t":"875°C","x":20.38,"y":370},{"p":"b","c":"b850","t":"850°C","x":20.38,"y":298},{"p":"b","c":"b800","t":"800°C","x":20.38,"y":226},{"p":"b","c":"b750","t":"750°C","x":20.38,"y":158},{"p":"b","c":"b550","t":"550°C","x":20.38,"y":91},{"p":"b","c":"b0","t":"As-deposited","x":20.38,"y":17}
],
"peaks":[
{"p":"a","t":"A(101)","x":25.68,"y":455},{"p":"a","t":"R(110)","x":27.92,"y":378},{"p":"a","t":"Si(100)","x":35.25,"y":472},{"p":"a","t":"A(004), (112)","x":37.8,"y":375},
{"p":"b","t":"R(110)","x":27.87,"y":421},{"p":"b","t":"Si(100)","x":33.28,"y":435},{"p":"b","t":"R(101), (200), (111)","x":39.0,"y":376},{"p":"b","t":"A(101)","x":25.68,"y":315},{"p":"b","t":"A(112)","x":38.4,"y":296}
],
"letters":[{"p":"a","t":"a","x":20.8,"y":473},{"p":"b","t":"b","x":20.93,"y":473}]
},
"spacing":7,
"hconcat":[
{"width":439,"height":493,
 "layer":[
  {"data":{"name":"a"},"mark":{"type":"line","strokeWidth":3},
   "encoding":{
    "x":{"field":"x","type":"quantitative","scale":{"domain":[20,44],"nice":false,"zero":false},
         "axis":{"values":[20,25,30,35,40],"title":null,"domain":false,"tickSize":5,"tickWidth":1.5,"labelFontSize":23,"labelPadding":8,"labelFlush":false,"labelFont":"Liberation Serif"}},
    "y":{"field":"y","type":"quantitative","scale":{"domain":[0,493],"nice":false,"zero":false},
         "axis":{"title":"Intensity (arb. units)","titleFontSize":22,"titleFontWeight":"bold","titleFont":"Liberation Serif","titlePadding":17,"labels":false,"ticks":false,"domainWidth":2}},
    "color":{"field":"c","type":"nominal","legend":null,"scale":{"domain":["a875","a850","a800","a750","a550","a0","b875","b850","b800","b750","b550","b0"],"range":["#DA6B1F","#2A8CA6","#4B2D80","#6E9C2F","#A11E24","#2A5496","#F28A26","#2F9DB8","#553A8F","#7AAB3A","#B0242A","#2A5496"]}}}},
  {"data":{"name":"samples"},"transform":[{"filter":"datum.p=='a'"}],"mark":{"type":"text","align":"left","baseline":"alphabetic","fontSize":21,"fontWeight":"bold","font":"Liberation Serif"},
   "encoding":{"x":{"field":"x","type":"quantitative"},"y":{"field":"y","type":"quantitative"},"text":{"field":"t"},"color":{"field":"c","type":"nominal","legend":null}}},
  {"data":{"name":"peaks"},"transform":[{"filter":"datum.p=='a'"}],"mark":{"type":"text","align":"center","baseline":"alphabetic","fontSize":18,"font":"Liberation Serif","color":"#000"},
   "encoding":{"x":{"field":"x","type":"quantitative"},"y":{"field":"y","type":"quantitative"},"text":{"field":"t"}}},
  {"data":{"name":"letters"},"transform":[{"filter":"datum.p=='a'"}],"mark":{"type":"text","align":"center","baseline":"alphabetic","fontSize":32,"fontWeight":"bold","font":"Liberation Serif","color":"#000"},
   "encoding":{"x":{"field":"x","type":"quantitative"},"y":{"field":"y","type":"quantitative"},"text":{"field":"t"}}}
 ]},
{"width":439,"height":493,
 "layer":[
  {"data":{"name":"b"},"mark":{"type":"line","strokeWidth":3},
   "encoding":{
    "x":{"field":"x","type":"quantitative","scale":{"domain":[20,44],"nice":false,"zero":false},
         "axis":{"values":[20,25,30,35,40],"title":null,"domain":false,"tickSize":5,"tickWidth":1.5,"labelFontSize":23,"labelPadding":8,"labelFlush":false,"labelFont":"Liberation Serif"}},
    "y":{"field":"y","type":"quantitative","scale":{"domain":[0,493],"nice":false,"zero":false},
         "axis":{"title":null,"labels":false,"ticks":false,"domainWidth":2,"minExtent":0}},
    "color":{"field":"c","type":"nominal","legend":null,"scale":{"domain":["a875","a850","a800","a750","a550","a0","b875","b850","b800","b750","b550","b0"],"range":["#DA6B1F","#2A8CA6","#4B2D80","#6E9C2F","#A11E24","#2A5496","#F28A26","#2F9DB8","#553A8F","#7AAB3A","#B0242A","#2A5496"]}}}},
  {"data":{"name":"samples"},"transform":[{"filter":"datum.p=='b'"}],"mark":{"type":"text","align":"left","baseline":"alphabetic","fontSize":21,"fontWeight":"bold","font":"Liberation Serif"},
   "encoding":{"x":{"field":"x","type":"quantitative"},"y":{"field":"y","type":"quantitative"},"text":{"field":"t"},"color":{"field":"c","type":"nominal","legend":null}}},
  {"data":{"name":"peaks"},"transform":[{"filter":"datum.p=='b'"}],"mark":{"type":"text","align":"center","baseline":"alphabetic","fontSize":18,"font":"Liberation Serif","color":"#000"},
   "encoding":{"x":{"field":"x","type":"quantitative"},"y":{"field":"y","type":"quantitative"},"text":{"field":"t"}}},
  {"data":{"name":"letters"},"transform":[{"filter":"datum.p=='b'"}],"mark":{"type":"text","align":"center","baseline":"alphabetic","fontSize":32,"fontWeight":"bold","font":"Liberation Serif","color":"#000"},
   "encoding":{"x":{"field":"x","type":"quantitative"},"y":{"field":"y","type":"quantitative"},"text":{"field":"t"}}}
 ]}
]
}
